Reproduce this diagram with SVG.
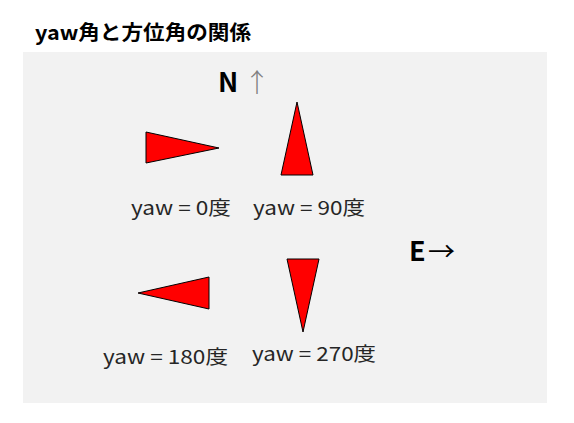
<svg xmlns="http://www.w3.org/2000/svg" width="574" height="423" viewBox="0 0 574 423">
<style>
.lbl{font-family:"Noto Sans CJK JP","Noto Sans",sans-serif;font-size:19px;fill:#262626}
.dir{font-family:"Noto Sans CJK JP","Noto Sans",sans-serif;font-size:27px;font-weight:bold;fill:#000}
.tri{fill:#ff0000;stroke:#000;stroke-width:1}
</style>
<rect x="0" y="0" width="574" height="423" fill="#ffffff"/>
<rect x="23" y="52" width="524" height="351" fill="#f2f2f2"/>
<text x="35" y="40" font-family="'Noto Sans CJK JP','Noto Sans',sans-serif" font-size="20" font-weight="bold" fill="#000" textLength="216" lengthAdjust="spacingAndGlyphs">yaw角と方位角の関係</text>
<g id="north"><text class="dir" x="218" y="92">N</text><text x="244" y="92" font-family="'Noto Sans CJK JP',sans-serif" font-size="26" font-weight="300" fill="#7f7f7f">↑</text></g>
<g id="east"><text class="dir" x="409" y="261">E</text><text x="428" y="261" font-family="'Noto Sans CJK JP',sans-serif" font-size="26" fill="#000" textLength="27" lengthAdjust="spacingAndGlyphs">→</text></g>
<g id="yaw0"><polygon class="tri" points="146,132 146,163 219,148"/><text class="lbl" x="131" y="215" textLength="100" lengthAdjust="spacingAndGlyphs">yaw = 0度</text></g>
<g id="yaw90"><polygon class="tri" points="297,102 281,175 313,175"/><text class="lbl" x="253" y="215" textLength="112" lengthAdjust="spacingAndGlyphs">yaw = 90度</text></g>
<g id="yaw180"><polygon class="tri" points="138,293 209,277 209,309"/><text class="lbl" x="103" y="364" textLength="125" lengthAdjust="spacingAndGlyphs">yaw = 180度</text></g>
<g id="yaw270"><polygon class="tri" points="287,259 319,259 303,332"/><text class="lbl" x="252" y="361" textLength="124" lengthAdjust="spacingAndGlyphs">yaw = 270度</text></g>
<g id="connectors"/>
</svg>
